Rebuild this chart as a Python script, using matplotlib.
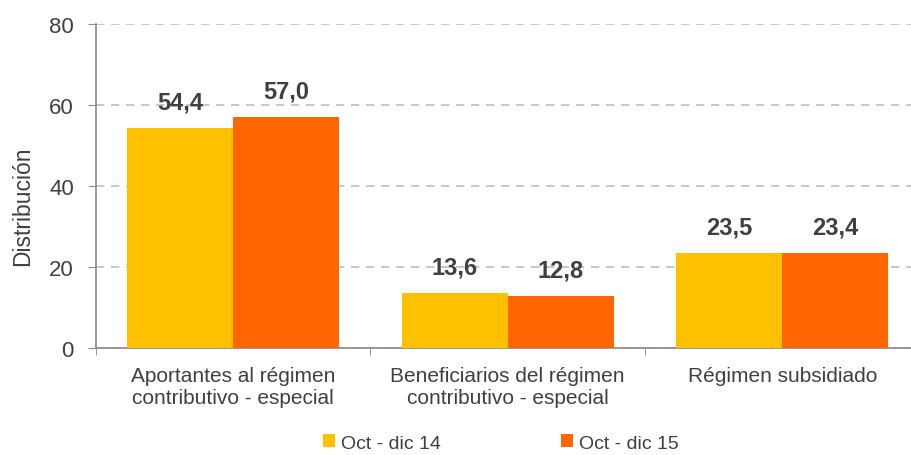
import matplotlib.pyplot as plt
import numpy as np

plt.rcParams['font.family'] = ['Liberation Sans', 'DejaVu Sans']

categories = ["Aportantes al régimen\ncontributivo - especial",
              "Beneficiarios del régimen\ncontributivo - especial",
              "Régimen subsidiado"]
series_names = ["Oct - dic 14", "Oct - dic 15"]
values_14 = [54.4, 13.6, 23.5]
values_15 = [57.0, 12.8, 23.4]
colors = ["#FFC000", "#FF6600"]
text_color = "#404040"

fig = plt.figure(figsize=(9.12, 4.56), dpi=100)
ax = fig.add_axes([96 / 912, 107 / 456, 823.5 / 912, 324 / 456])

x = np.arange(len(categories))
w = 0.386
for i, (vals, name) in enumerate(zip([values_14, values_15], series_names)):
    pos = x + (i - 0.5) * w
    ax.bar(pos, vals, width=w, color=colors[i], label=name, zorder=3)
    for xp, v in zip(pos, vals):
        ax.text(xp, v + 3.6, f"{v:.1f}".replace(".", ","), ha="center", va="bottom",
                fontsize=17, fontweight="bold", color=text_color)

ax.set_xlim(-0.5, 2.5)
ax.set_ylim(0, 80)
ax.set_yticks([0, 20, 40, 60, 80])
ax.yaxis.grid(True, linestyle=(0, (5, 4)), color="#BFBFBF", linewidth=1.2, zorder=0)
ax.set_xticks(x)
ax.set_xticklabels(categories, fontsize=15, color=text_color, linespacing=1.2)
ax.set_xticks([-0.5, 0.5, 1.5, 2.5], minor=True)
ax.tick_params(axis="x", which="major", length=0, pad=13)
ax.tick_params(axis="x", which="minor", length=5, color="#888888")
ax.tick_params(axis="y", labelsize=16, labelcolor=text_color, length=6,
               color="#888888", direction="out", pad=10)
fig.text(23 / 912, 1 - 206 / 456, "Distribución", rotation=90, ha="center",
         va="center", fontsize=16.5, color=text_color)

for s in ["top", "right"]:
    ax.spines[s].set_visible(False)
for s in ["left", "bottom"]:
    ax.spines[s].set_color("#888888")
    ax.spines[s].set_linewidth(1.2)

fig.legend(loc="center", bbox_to_anchor=(501 / 912, 1 - 444 / 456), ncol=2,
           frameon=False, fontsize=14, handlelength=0.6, handleheight=0.6,
           columnspacing=6.2, handletextpad=0.3, labelcolor=text_color)

fig.savefig("out.png", dpi=100)
